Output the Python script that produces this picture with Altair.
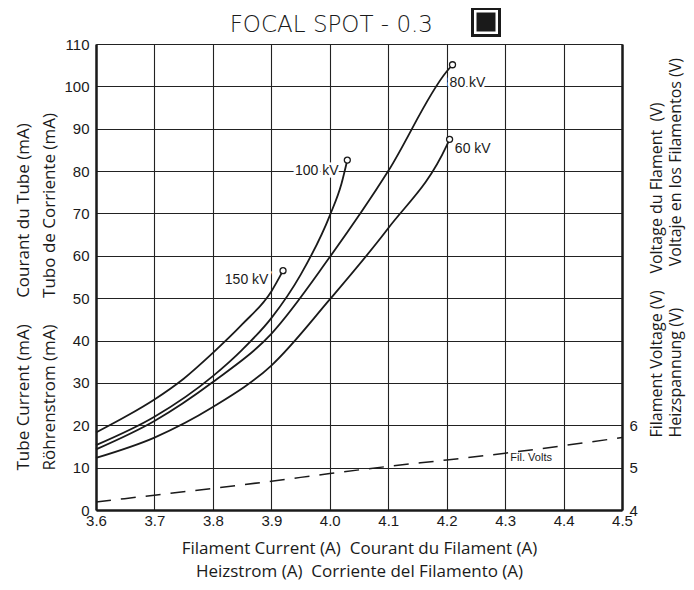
import altair as alt
import pandas as pd

# ---- data ----
kv150_x = [3.60, 3.65, 3.70, 3.75, 3.80, 3.85, 3.90, 3.92]
kv150_y = [18.3, 22.0, 26.1, 31.0, 37.1, 43.8, 51.6, 56.5]

kv100_x = [3.60, 3.70, 3.80, 3.85, 3.90, 3.95, 4.00, 4.02, 4.03]
kv100_y = [15.3, 22.0, 31.6, 37.8, 45.3, 55.5, 69.5, 77.0, 82.6]

kv80_x = [3.60, 3.70, 3.80, 3.90, 4.00, 4.10, 4.20, 4.21]
kv80_y = [14.3, 21.0, 30.2, 41.6, 59.7, 80.0, 103.5, 105.1]

kv60_x = [3.60, 3.70, 3.80, 3.90, 4.00, 4.10, 4.20, 4.205]
kv60_y = [12.3, 17.1, 24.3, 34.1, 49.7, 66.5, 86.0, 87.5]

volts_x = [3.6, 3.7, 3.8, 3.9, 4.0, 4.1, 4.2, 4.3, 4.4, 4.5]
volts_y = [4.19, 4.35, 4.51, 4.68, 4.86, 5.03, 5.18, 5.34, 5.52, 5.71]

label_text = ["150 kV", "100 kV", "80 kV", "60 kV"]
label_x = [3.895, 4.015, 4.205, 4.214]
label_y = [54.4, 80.0, 100.8, 85.2]
label_align = ["right", "right", "left", "left"]

x_ticks = [3.6, 3.7, 3.8, 3.9, 4.0, 4.1, 4.2, 4.3, 4.4, 4.5]
y_ticks = list(range(0, 111, 10))
v_ticks = [4, 5, 6]


def sp(n):
    return "\u00a0" * n


title_text = "FOCAL SPOT - 0.3"
x_title = ["Filament Current (A)" + sp(2) + "Courant du Filament (A)",
           "Heizstrom (A)" + sp(2) + "Corriente del Filamento (A)"]
y_title = ["Tube Current (mA)" + sp(6) + "Courant du Tube (mA)",
           "Röhrenstrom (mA)" + sp(6) + "Tubo de Corriente (mA)"]
v_title = ["Filament Voltage (V)" + sp(4) + "Voltage du Flament" + sp(2) + "(V)",
           "Heizspannung (V)" + sp(10) + "Voltaje en los Filamentos (V)"]

# ---- tables ----
rows = []
for name, xs, ys in [("150 kV", kv150_x, kv150_y), ("100 kV", kv100_x, kv100_y),
                     ("80 kV", kv80_x, kv80_y), ("60 kV", kv60_x, kv60_y)]:
    for i, (a, b) in enumerate(zip(xs, ys)):
        rows.append({"series": name, "x": a, "y": b, "i": i, "end": i == len(xs) - 1})
curves_df = pd.DataFrame(rows)
ends_df = curves_df[curves_df["end"]]
labels_df = pd.DataFrame({"t": label_text, "x": label_x, "y": label_y, "al": label_align})
volts_df = pd.DataFrame({"x": volts_x, "v": volts_y})
one_df = pd.DataFrame({"t": [title_text]})

TICK_FONT = "Liberation Sans"
TITLE_FONT = "Open Sans"
INK = "#1a1a1a"
W, H = 526, 466

xscale = alt.Scale(domain=[3.6, 4.5], nice=False, zero=False)
yscale = alt.Scale(domain=[0, 110], nice=False)
vscale = alt.Scale(domain=[4, 15], nice=False, zero=False)

x_axis = alt.Axis(values=x_ticks, format=".1f", tickSize=0, labelPadding=3,
                  labelFont=TICK_FONT, labelFontSize=15, labelColor=INK,
                  domainColor=INK, domainWidth=2.5, gridColor="#222", gridWidth=1.1,
                  gridOpacity=1, labelFlush=False, title=x_title,
                  titleFont=TITLE_FONT, titleFontSize=17, titleFontWeight="normal",
                  titleColor=INK, titlePadding=12, titleLineHeight=23)
y_axis = alt.Axis(values=y_ticks, tickSize=0, labelPadding=7,
                  labelFont=TICK_FONT, labelFontSize=15, labelColor=INK,
                  domainColor=INK, domainWidth=2.5, gridColor="#222", gridWidth=1.1,
                  gridOpacity=1, labelFlush=False, title=y_title,
                  titleFont=TITLE_FONT, titleFontSize=17, titleFontWeight="normal",
                  titleColor=INK, titlePadding=5, titleLineHeight=26,
                  titleAnchor="start", titleAlign="left", titleAngle=270,
                  titleY=H - 40)
v_axis = alt.Axis(orient="right", values=v_ticks, tickSize=0, labelPadding=7, grid=False,
                  labelFont=TICK_FONT, labelFontSize=15, labelColor=INK,
                  domainColor=INK, domainWidth=2.5, labelFlush=False, title=v_title,
                  titleAngle=270, titleFont=TITLE_FONT, titleFontSize=16,
                  titleFontWeight="normal", titleColor=INK, titlePadding=8,
                  titleLineHeight=19, titleBaseline="bottom",
                  titleAnchor="start", titleAlign="left", titleY=H - 73)

X = alt.X("x:Q", scale=xscale, axis=x_axis)
Y = alt.Y("y:Q", scale=yscale, axis=y_axis)
V = alt.Y("v:Q", scale=vscale, axis=v_axis)

curves = alt.Chart(curves_df).mark_line(color=INK, strokeWidth=1.8, interpolate="monotone").encode(
    x=X, y=Y, detail="series:N", order="i:Q")
ends = alt.Chart(ends_df).mark_point(shape="circle", size=36, filled=True, fill="white",
                                     stroke=INK, strokeWidth=1.3, opacity=1).encode(x=X, y=Y)


def lbl(al, halo):
    kw = dict(align=al, baseline="middle", font=TICK_FONT, fontSize=14)
    if halo:
        kw.update(stroke="white", strokeWidth=5, color="white")
    else:
        kw.update(color=INK)
    return alt.Chart(labels_df).transform_filter(f"datum.al == '{al}'").mark_text(**kw).encode(
        x=X, y=Y, text="t:N")


title_mark = alt.Chart(one_df).mark_text(font="DejaVu Sans", fontSize=23, fontWeight=300,
                                         color=INK, align="right",
                                         baseline="alphabetic").encode(
    x=alt.value(337), y=alt.value(-12), text="t:N")
icon_outer = alt.Chart(one_df).mark_point(shape="square", size=729, filled=False,
                                          stroke=INK, strokeWidth=3, opacity=1).encode(
    x=alt.value(390), y=alt.value(-22))
icon_inner = alt.Chart(one_df).mark_point(shape="square", size=361, filled=True,
                                          color=INK, opacity=1).encode(
    x=alt.value(390), y=alt.value(-22))

left = alt.layer(curves, ends, lbl("right", True), lbl("left", True),
                 lbl("right", False), lbl("left", False), title_mark, icon_outer, icon_inner)

volts = alt.Chart(volts_df).mark_line(color=INK, strokeWidth=1.5, strokeDash=[15, 10],
                                      interpolate="monotone").encode(x=X, y=V)
volts_lbl = alt.Chart(pd.DataFrame({"t": ["Fil. Volts"], "x": [4.309], "v": [5.23]})).mark_text(
    align="left", baseline="middle", font=TICK_FONT, fontSize=11, color=INK).encode(
    x=X, y=V, text="t:N")
right = alt.layer(volts, volts_lbl)

chart = alt.layer(left, right).resolve_scale(y="independent").properties(
    width=W, height=H,
    padding={"left": 88, "top": 36, "right": 64, "bottom": 72},
    autosize=alt.AutoSizeParams(type="none"),
).configure_view(stroke=INK, strokeWidth=1.5).configure(background="white")

chart.save("out.html", embed_options={"renderer": "svg", "actions": False})
